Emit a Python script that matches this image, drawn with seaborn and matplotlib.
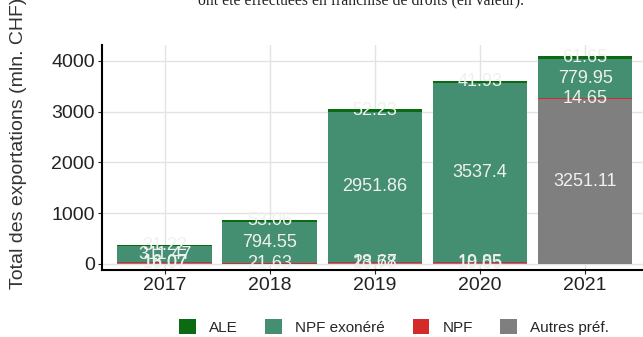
import matplotlib
matplotlib.use("Agg")
import matplotlib.pyplot as plt
import seaborn as sns
import numpy as np
import pandas as pd
from matplotlib.patches import Patch

years = ["2017", "2018", "2019", "2020", "2021"]
autres_pref = [18.07, 0.0, 13.78, 10.05, 3251.11]
npf = [16.07, 21.63, 28.67, 19.85, 14.65]
npf_exonere = [311.47, 794.55, 2951.86, 3537.4, 779.95]
ale = [31.22, 53.06, 52.23, 41.93, 61.65]

series_names = ["Autres préf.", "NPF", "NPF exonéré", "ALE"]
series_vals = [autres_pref, npf, npf_exonere, ale]
colors = {"ALE": "#0b6b12", "NPF exonéré": "#448f72", "NPF": "#d42a2a", "Autres préf.": "#7f7f7f"}
y_ticks = [0, 1000, 2000, 3000, 4000]

sns.set_theme(style="whitegrid")
plt.rcParams["font.family"] = ["Liberation Sans", "DejaVu Sans"]

fig = plt.figure(figsize=(6.43, 3.37), dpi=100)
ax = fig.add_axes([0.158, 0.198, 0.85, 0.668])

vals = np.array(series_vals)
cum = np.cumsum(vals, axis=0)
for i in range(len(series_names) - 1, -1, -1):
    df = pd.DataFrame({"year": years, "v": cum[i]})
    sns.barplot(data=df, x="year", y="v", order=years, color=colors[series_names[i]],
                width=0.9, saturation=1, ax=ax, zorder=2, linewidth=0, edgecolor="none")

for i, name in enumerate(series_names):
    bottoms = cum[i] - vals[i]
    for j, y in enumerate(years):
        if vals[i][j] <= 0:
            continue
        ax.text(j, bottoms[j] + vals[i][j] / 2, f"{vals[i][j]:g}", ha="center", va="center",
                color="#f0f0f0", fontsize=13, zorder=5)

ax.set_xlim(-0.6, 4.6)
ax.set_ylim(-130, 4312)
ax.set_yticks(y_ticks)
ax.set_yticklabels([str(t) for t in y_ticks])
ax.set_xlabel("")
ax.set_ylabel("Total des exportations (mln. CHF)", fontsize=14, color="#333333")
ax.yaxis.set_label_coords(-0.137, 0.565)
ax.tick_params(axis="both", labelsize=14, colors="#222222", length=3, width=0.8, pad=2)
ax.tick_params(axis="both", which="both", direction="out")
for lab in ax.get_xticklabels() + ax.get_yticklabels():
    lab.set_color("#222222")
ax.xaxis.set_tick_params(bottom=True, color="#222222")
ax.yaxis.set_tick_params(left=True, color="#222222")
ax.grid(True, color="#e3e3e3", linewidth=1)
ax.set_axisbelow(True)
for s in ["top", "right"]:
    ax.spines[s].set_visible(False)
for s in ["left", "bottom"]:
    ax.spines[s].set_visible(True)
    ax.spines[s].set_color("black")
    ax.spines[s].set_linewidth(1.5)

handles = [Patch(facecolor=colors[n], edgecolor="none") for n in ["ALE", "NPF exonéré", "NPF", "Autres préf."]]
fig.legend(handles, ["ALE", "NPF exonéré", "NPF", "Autres préf."], loc="center",
           bbox_to_anchor=(0.613, 0.03), ncol=4, frameon=False, fontsize=11,
           handlelength=1.1, handleheight=1.1, columnspacing=1.8, handletextpad=0.85)

fig.text(0.561, 1 - 4 / 337, "ont été effectuées en franchise de droits (en valeur).", ha="center",
         va="baseline", fontsize=11.3, family="Liberation Serif", color="#222222")

fig.savefig("out.png", dpi=100, facecolor="white")
